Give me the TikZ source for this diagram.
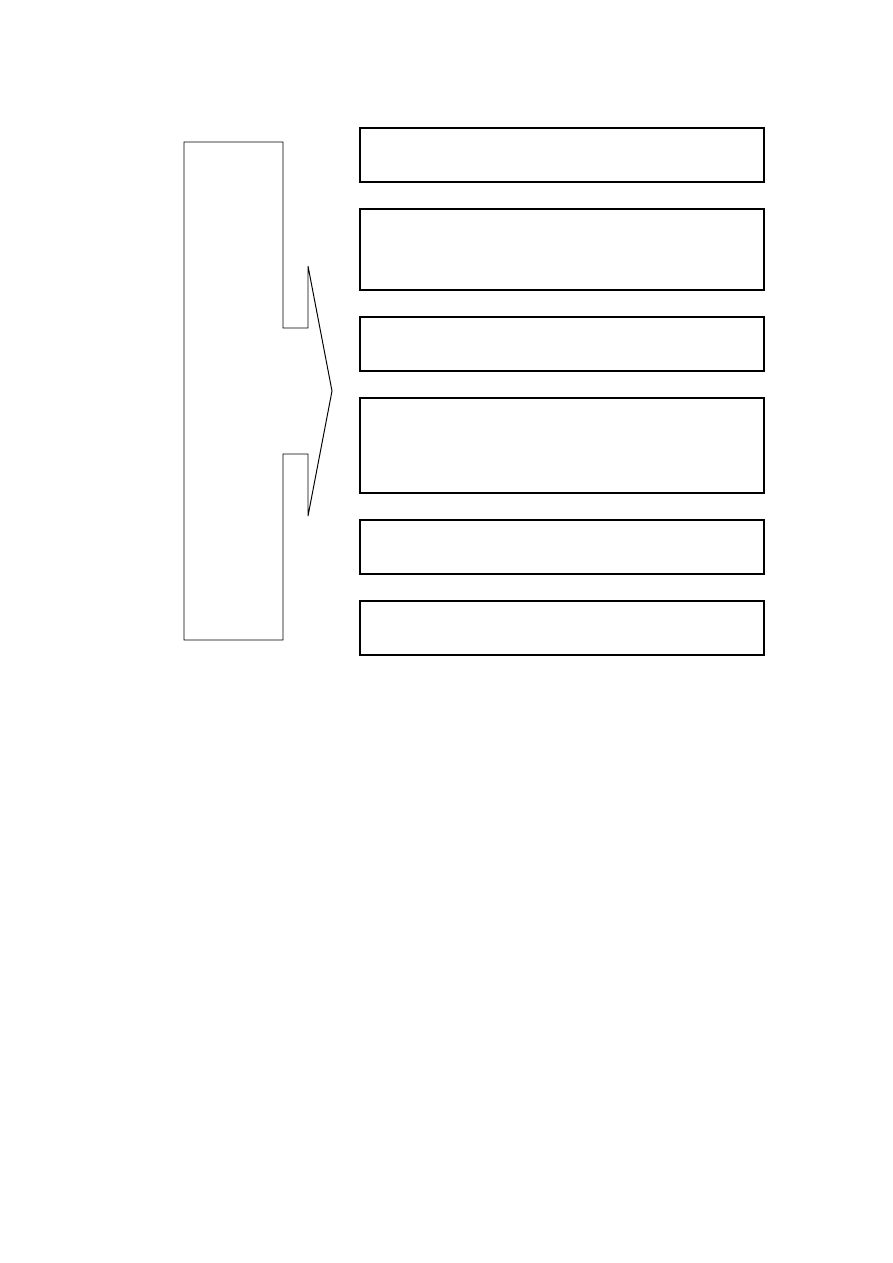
\documentclass[tikz,border=0pt]{standalone}
\usetikzlibrary{positioning}

\tikzset{
  box/.style={draw, line width=0.75pt, minimum width=269.3pt, inner sep=0pt, outer sep=0pt},
  lowbox/.style={box, line width=1.1pt},
  brace/.style={line width=0.65pt, line join=miter}
}

\begin{document}
\begin{tikzpicture}[x=0.6667pt, y=-0.6667pt]
  \useasboundingbox (0,0) rectangle (893,1263);
  % Bracket arrow
  \draw[brace] (184,142) -- (283,142) -- (283,328) -- (308,328) -- (308,266)
    -- (332,391) -- (308,516) -- (308,454) -- (283,454) -- (283,640)
    -- (184,640) -- cycle;
  % Boxes
  \node[box, minimum height=36pt] (b1) at (562,155) {};
  \node[box, minimum height=54pt] (b2) at (562,249.5) {};
  \node[box, minimum height=36pt] (b3) at (562,344) {};
  \node[lowbox, minimum height=63.3pt] (b4) at (562,445.5) {};
  \node[lowbox, minimum height=36pt] (b5) at (562,547) {};
  \node[lowbox, minimum height=36pt] (b6) at (562,628) {};
\end{tikzpicture}
\end{document}
